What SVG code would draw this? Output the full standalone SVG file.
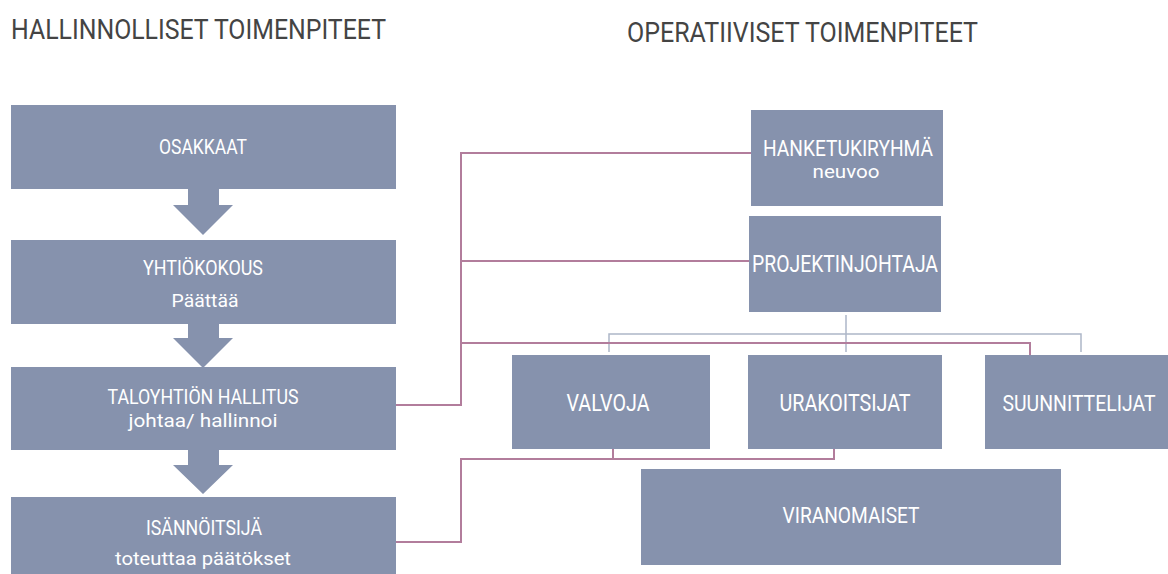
<svg xmlns="http://www.w3.org/2000/svg" width="1168" height="574" viewBox="0 0 1168 574">
<style>
.box{fill:#8692ad;}
.t{font-family:Roboto,"Liberation Sans",sans-serif;font-size:21px;fill:#ffffff;text-anchor:middle;}
.s{font-size:19px;}
.l{font-size:22px;}
.r{font-size:24px;}
.title{font-family:Roboto,"Liberation Sans",sans-serif;font-size:28px;fill:#444444;}
.pink{fill:none;stroke:#b27d9c;stroke-width:2;}
.gray{fill:none;stroke:#adb6c8;stroke-width:1.5;}
.arrow{fill:#8692ad;}
</style>
<rect width="1168" height="574" fill="#ffffff"/>
<text class="title" x="11" y="39" textLength="375" lengthAdjust="spacingAndGlyphs">HALLINNOLLISET TOIMENPITEET</text>
<text class="title" x="627" y="42" textLength="351" lengthAdjust="spacingAndGlyphs">OPERATIIVISET TOIMENPITEET</text>
<g id="connectors">
<polyline class="gray" points="846,315 846,352"/>
<polyline class="gray" points="609,352 609,334 1081,334 1081,352"/>
<polyline class="pink" points="396,405 461,405 461,153 751,153"/>
<polyline class="pink" points="461,261 749,261"/>
<polyline class="pink" points="461,343 1030,343 1030,355"/>
<polyline class="pink" points="396,542 461,542 461,459 834,459 834,449"/>
<polyline class="pink" points="613,449 613,459"/>
<polygon class="arrow" points="188,189 219,189 219,205 233,205 203,235 173,205 188,205"/>
<polygon class="arrow" points="188,324 219,324 219,338 233,338 203,368 173,338 188,338"/>
<polygon class="arrow" points="188,450 219,450 219,465 233,465 203,494 173,465 188,465"/>
</g>
<g id="osakkaat"><rect class="box" x="11" y="105" width="385" height="84"/><text class="t" x="203" y="154" textLength="88" lengthAdjust="spacingAndGlyphs">OSAKKAAT</text></g>
<g id="yhtiokokous"><rect class="box" x="11" y="240" width="385" height="84"/><text class="t" x="203" y="275" textLength="120" lengthAdjust="spacingAndGlyphs">YHTIÖKOKOUS</text><text class="t s" x="205" y="307" textLength="67" lengthAdjust="spacingAndGlyphs">Päättää</text></g>
<g id="hallitus"><rect class="box" x="11" y="367" width="385" height="83"/><text class="t" x="203" y="404" textLength="191" lengthAdjust="spacingAndGlyphs">TALOYHTIÖN HALLITUS</text><text class="t s" x="203" y="427" textLength="149" lengthAdjust="spacingAndGlyphs">johtaa/ hallinnoi</text></g>
<g id="isannoitsija"><rect class="box" x="11" y="497" width="385" height="77"/><text class="t" x="204" y="535" textLength="116" lengthAdjust="spacingAndGlyphs">ISÄNNÖITSIJÄ</text><text class="t s" x="203" y="565" textLength="176" lengthAdjust="spacingAndGlyphs">toteuttaa päätökset</text></g>
<g id="hanketukiryhma"><rect class="box" x="751" y="110" width="192" height="96"/><text class="t l" x="848" y="156" textLength="170" lengthAdjust="spacingAndGlyphs">HANKETUKIRYHMÄ</text><text class="t s" x="846" y="178" textLength="67" lengthAdjust="spacingAndGlyphs">neuvoo</text></g>
<g id="projektinjohtaja"><rect class="box" x="749" y="216" width="192" height="96"/><text class="t r" x="845" y="272" textLength="186" lengthAdjust="spacingAndGlyphs">PROJEKTINJOHTAJA</text></g>
<g id="valvoja"><rect class="box" x="512" y="355" width="198" height="94"/><text class="t r" x="608" y="411" textLength="83" lengthAdjust="spacingAndGlyphs">VALVOJA</text></g>
<g id="urakoitsijat"><rect class="box" x="748" y="355" width="194" height="94"/><text class="t r" x="845" y="411" textLength="131" lengthAdjust="spacingAndGlyphs">URAKOITSIJAT</text></g>
<g id="suunnittelijat"><rect class="box" x="985" y="355" width="183" height="94"/><text class="t l" x="1079" y="411" textLength="153" lengthAdjust="spacingAndGlyphs">SUUNNITTELIJAT</text></g>
<g id="viranomaiset"><rect class="box" x="641" y="469" width="420" height="96"/><text class="t l" x="851" y="523" textLength="137" lengthAdjust="spacingAndGlyphs">VIRANOMAISET</text></g>
</svg>
